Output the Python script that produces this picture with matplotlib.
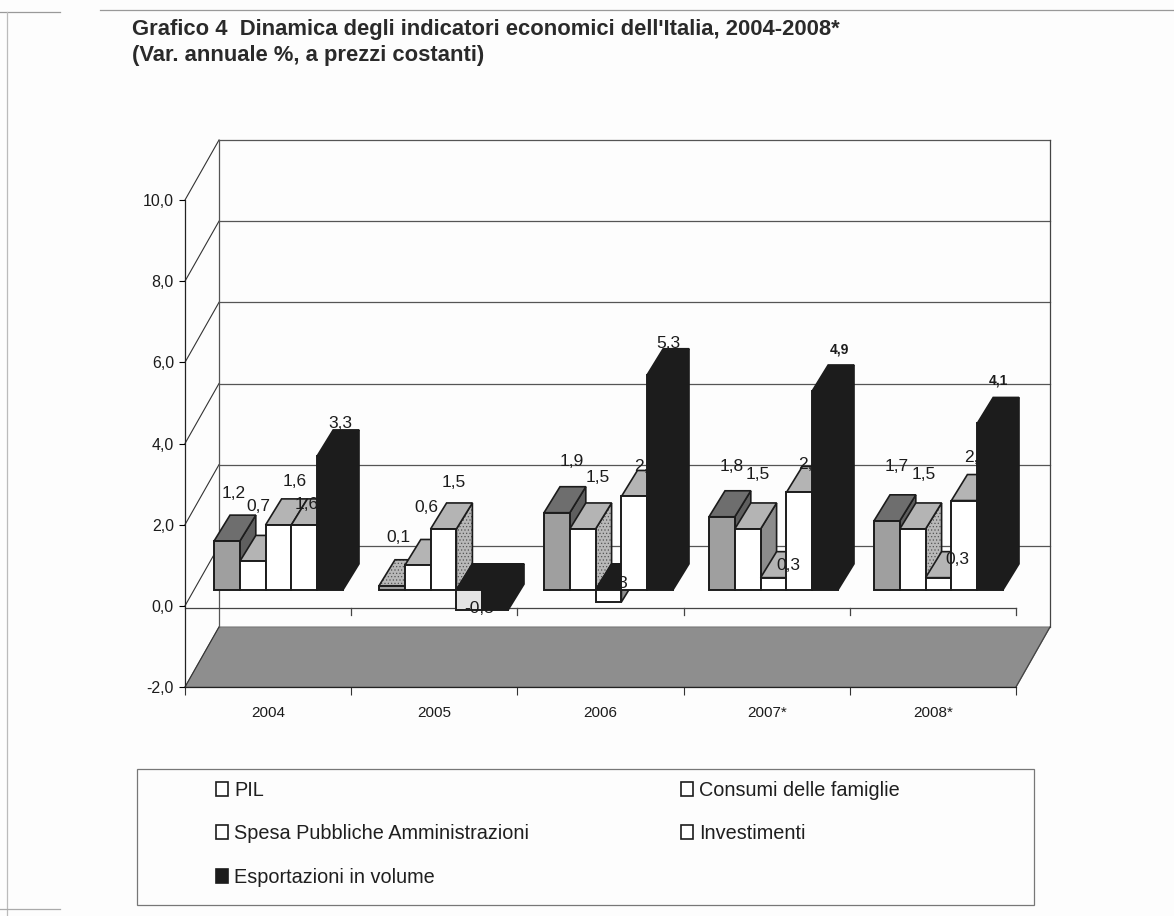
import matplotlib
matplotlib.use("Agg")
import matplotlib.pyplot as plt
from matplotlib.patches import Polygon, Patch, Rectangle
from matplotlib.lines import Line2D

plt.rcParams['font.family'] = ['Liberation Sans', 'DejaVu Sans']
plt.rcParams['hatch.linewidth'] = 0.5

# ---- data ----
years = ['2004', '2005', '2006', '2007*', '2008*']
series = ['PIL', 'Consumi delle famiglie', 'Spesa Pubbliche Amministrazioni',
          'Investimenti', 'Esportazioni in volume']
pil = [1.2, 0.1, 1.9, 1.8, 1.7]
consumi = [0.7, 0.6, 1.5, 1.5, 1.5]
terza = [1.6, 1.5, -0.3, 0.3, 0.3]
quarta = [1.6, -0.5, 2.3, 2.4, 2.2]
esportazioni = [3.3, -0.5, 5.3, 4.9, 4.1]
all_values = [pil, consumi, terza, quarta, esportazioni]
y_ticks = [-2, 0, 2, 4, 6, 8, 10]

# label offsets (px) from the centre of a bar's front top edge
label_dx = [[7, 6, 16, 2, 10], [7, 9, 10, 10, 3], [15, 15, 5, 12, 8],
            [10, 10, 15, 11, 14], [10, 11, 19, 12, 8]]
label_dy = [[48, 55, 43, 20, 32], [48, 58, 46, 2, 13], [51, 51, 19, 30, 31],
            [50, 54, 12, 28, 41], [54, 54, 18, 43, 43]]

# styles: front, top, side per series
INK = '#1c1c1c'
front_c = ['#9f9f9f', '#ffffff', '#ffffff', '#ffffff', INK]
top_c = ['#6e6e6e', '#b4b4b4', '#b4b4b4', '#b4b4b4', INK]
side_c = ['#5f5f5f', '#8c8c8c', '#8c8c8c', '#8c8c8c', INK]
dotted_side = {(1, 2), (2, 1), (4, 1)}
dotted_top = {(1, 0)}

W, H = 1174, 916
fig = plt.figure(figsize=(W / 100, H / 100), dpi=100, facecolor='#fdfdfd')
L, R, T, B = 185, 1016, 200, 687
ax = fig.add_axes([L / W, 1 - B / H, (R - L) / W, (B - T) / H])
ax.set_xlim(0, 5)
ax.set_ylim(-2, 10)
ax.patch.set_alpha(0)
PX = 5 / (R - L)
PY = 12 / (B - T)

# ---- walls and floor ----
wall_dx, wall_dy = 34 * PX, 60 * PY
ax.add_patch(Polygon([(0, -2), (wall_dx, -2 + wall_dy), (5 + wall_dx, -2 + wall_dy), (5, -2)],
                     closed=True, fc='#8e8e8e', ec='#777777', lw=0.8, clip_on=False, zorder=1))
for v in y_ticks:
    ax.plot([0, wall_dx], [v, v + wall_dy], color='#333333', lw=0.8, clip_on=False, zorder=1)
    if v > -2:
        ax.plot([wall_dx, 5 + wall_dx], [v + wall_dy] * 2, color='#555555', lw=0.9,
                clip_on=False, zorder=1)
ax.plot([wall_dx, wall_dx], [-2 + wall_dy, 10 + wall_dy], color='#555555', lw=0.9, clip_on=False, zorder=1)
ax.plot([5 + wall_dx] * 2, [-2 + wall_dy, 10 + wall_dy], color='#444444', lw=0.9, clip_on=False, zorder=1)
ax.plot([5, 5 + wall_dx], [-2, -2 + wall_dy], color='#444444', lw=0.9, clip_on=False, zorder=1)

# zero line with its ticks
ax.plot([0, 5], [-0.05, -0.05], color='#444444', lw=0.9, clip_on=False, zorder=2)
for k in range(1, 6):
    ax.plot([k, k], [-0.05, -0.05 - 7 * PY], color='#444444', lw=0.9, clip_on=False, zorder=2)

# ---- bars ----
step = 165 * PX
start = (214 - L) * PX
bw = 25.8 * PX
base = 16 * PY
dx, dy = 16 * PX, 26 * PY
z = 3


def face(points, fc, edge, dotted, zorder):
    if dotted:
        ax.add_patch(Polygon(points, closed=True, fc='#b8b8b8', ec='#555555', lw=0, hatch='.....',
                             clip_on=False, zorder=zorder))
        ax.add_patch(Polygon(points, closed=True, fc='none', ec=edge, lw=1.2, clip_on=False, zorder=zorder))
    else:
        ax.add_patch(Polygon(points, closed=True, fc=fc, ec=edge, lw=1.2, clip_on=False, zorder=zorder))


for i in range(len(years)):
    for k, vals in enumerate(all_values):
        v = vals[i]
        x0 = start + i * step + k * bw
        x1 = x0 + bw
        hi = max(v, 0) + base
        lo = min(v, 0) + base
        top = INK if v < 0 else top_c[k]
        front = '#e4e4e4' if (i, k) == (1, 3) else front_c[k]
        face([(x1, lo), (x1 + dx, lo + dy), (x1 + dx, hi + dy), (x1, hi)], side_c[k], INK,
             (i, k) in dotted_side, z)
        face([(x0, hi), (x0 + dx, hi + dy), (x1 + dx, hi + dy), (x1, hi)], top, INK,
             (i, k) in dotted_top, z)
        ax.add_patch(Rectangle((x0, lo), bw, hi - lo, fc=front, ec=INK, lw=1.4,
                               clip_on=False, zorder=z))
        z += 0.01

# ---- data labels, all on top (black on black disappears) ----
for i in range(len(years)):
    for k, vals in enumerate(all_values):
        v = vals[i]
        xc = start + i * step + (k + 0.5) * bw + label_dx[i][k] * PX
        yc = v + base + label_dy[i][k] * PY
        small = k == 4 and i in (3, 4)
        ax.text(xc, yc, f'{v:.1f}'.replace('.', ','), ha='center', va='center',
                fontsize=10 if small else 12.5, fontweight='bold' if small else 'normal',
                color=INK, clip_on=False, zorder=20)

# ---- axes ----
for s in ('top', 'right'):
    ax.spines[s].set_visible(False)
for s in ('left', 'bottom'):
    ax.spines[s].set_color('#222222')
    ax.spines[s].set_linewidth(0.9)
ax.set_yticks(y_ticks)
ax.set_yticklabels([f'{v:.1f}'.replace('.', ',') for v in y_ticks], fontsize=11.5, color=INK)
ax.tick_params(axis='y', length=4, width=0.8, pad=4)
ax.set_xticks([i + 0.5 for i in range(5)])
ax.set_xticklabels(years, fontsize=11, color=INK)
ax.tick_params(axis='x', which='major', length=0, pad=14)
ax.set_xticks(range(6), minor=True)
ax.tick_params(axis='x', which='minor', length=6, width=0.8, color='#333333')

# ---- title ----
fig.text(132 / W, 1 - 29 / H, "Grafico 4  Dinamica degli indicatori economici dell'Italia, 2004-2008*",
         fontsize=15.8, fontweight='bold', color='#2a2a2a', va='center', ha='left')
fig.text(132 / W, 1 - 56 / H, "(Var. annuale %, a prezzi costanti)",
         fontsize=15.8, fontweight='bold', color='#2a2a2a', va='center', ha='left')

# ---- legend ----
fig.add_artist(Rectangle((137 / W, 1 - 905 / H), (1034 - 137) / W, (905 - 769) / H,
                         transform=fig.transFigure, fc='none', ec='#777777', lw=0.9))
order = [0, 2, 4, 1, 3]
handles = [Patch(fc=INK if j == 4 else 'white', ec=INK, lw=1.2, label=series[j]) for j in order]
fig.legend(handles=handles, loc='upper left', bbox_to_anchor=(210 / W, 1 - 775 / H), ncol=2,
           frameon=False, fontsize=14.3, handlelength=0.62, handleheight=0.7, handletextpad=0.3,
           labelspacing=1.23, columnspacing=7.65, labelcolor='#1f1f1f', borderaxespad=0, borderpad=0.3)

# ---- scan frame ----
for xs, ys, c in [([0, 60], [12, 12], '#999999'), ([100, 1174], [10, 10], '#999999'),
                  ([7, 7], [12, 916], '#bbbbbb'), ([0, 60], [909, 909], '#aaaaaa')]:
    fig.add_artist(Line2D([x / W for x in xs], [1 - y / H for y in ys], color=c, lw=0.9))

fig.savefig('out.png', dpi=100, facecolor=fig.get_facecolor())
